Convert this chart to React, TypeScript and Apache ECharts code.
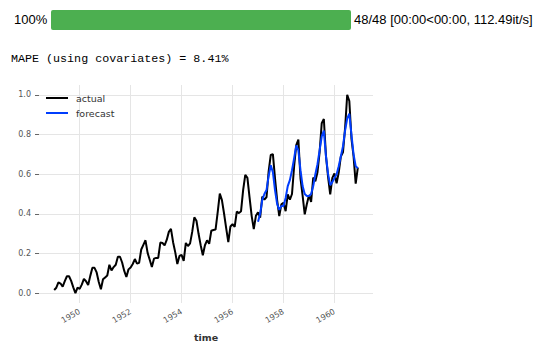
import React, { useEffect, useRef } from "react";
import * as echarts from "echarts";

// Monthly air passengers (thousands), 1949-01 .. 1960-12
const passengers: number[] = [
  112, 118, 132, 129, 121, 135, 148, 148, 136, 119, 104, 118,
  115, 126, 141, 135, 125, 149, 170, 170, 158, 133, 114, 140,
  145, 150, 178, 163, 172, 178, 199, 199, 184, 162, 146, 166,
  171, 180, 193, 181, 183, 218, 230, 242, 209, 191, 172, 194,
  196, 196, 236, 235, 229, 243, 264, 272, 237, 211, 180, 201,
  204, 188, 235, 227, 234, 264, 302, 293, 259, 229, 203, 229,
  242, 233, 267, 269, 270, 315, 364, 347, 312, 274, 237, 278,
  284, 277, 317, 313, 318, 374, 413, 405, 355, 306, 271, 306,
  315, 301, 356, 348, 355, 422, 465, 467, 404, 347, 305, 336,
  340, 318, 362, 348, 363, 435, 491, 505, 404, 359, 310, 337,
  360, 342, 406, 396, 420, 472, 548, 559, 463, 407, 362, 405,
  417, 391, 419, 461, 472, 535, 622, 606, 508, 461, 390, 432,
];
const startYear = 1949;

// Scaled forecast, 1957-01 .. 1960-12
const forecast: number[] = [
  0.36, 0.40, 0.47, 0.50, 0.52, 0.59, 0.645, 0.61, 0.52, 0.45, 0.42, 0.44,
  0.44, 0.48, 0.54, 0.57, 0.62, 0.68, 0.745, 0.72, 0.62, 0.54, 0.50, 0.49,
  0.49, 0.50, 0.54, 0.60, 0.65, 0.72, 0.79, 0.82, 0.69, 0.60, 0.545, 0.56,
  0.58, 0.60, 0.64, 0.69, 0.74, 0.82, 0.88, 0.905, 0.80, 0.70, 0.64, 0.63,
];
const forecastStartYear = 1957;

const xTickYears: number[] = [1950, 1952, 1954, 1956, 1958, 1960];
const yTicks: number[] = [0, 0.2, 0.4, 0.6, 0.8, 1.0];

const seriesNames = ["actual", "forecast"];
const progressLeft = "100%";
const progressRight = "48/48 [00:00<00:00, 112.49it/s]";
const metricText = "MAPE (using covariates) = 8.41%";

export default function App() {
  const ref = useRef<HTMLDivElement>(null);
  useEffect(() => {
    if (!ref.current) return;
    const chart = echarts.init(ref.current, undefined, { renderer: "svg" });
    const pMin = Math.min(...passengers);
    const pMax = Math.max(...passengers);
    const actualData = passengers.map((p, i) => [startYear + i / 12, (p - pMin) / (pMax - pMin)]);
    const forecastData = forecast.map((v, i) => [forecastStartYear + i / 12, v]);
    const x0 = startYear;
    const x1 = startYear + (passengers.length - 1) / 12;
    const xm = (x1 - x0) * 0.05;
    const font = "DejaVu Sans";
    chart.setOption({
      animation: false,
      backgroundColor: "#ffffff",
      grid: { left: 39, right: 170, top: 85, bottom: 48 },
      legend: {
        orient: "vertical",
        left: 46,
        top: 92,
        padding: 0,
        itemWidth: 22,
        itemHeight: 2,
        itemGap: 3,
        icon: "rect",
        textStyle: { fontFamily: font, fontSize: 9.5, color: "#333", lineHeight: 12, padding: [0, 0, 0, 3] },
        data: seriesNames,
      },
      xAxis: {
        type: "value",
        min: x0 - xm,
        max: x1 + xm,
        name: "time",
        nameLocation: "middle",
        nameGap: 29,
        nameTextStyle: { fontFamily: font, fontSize: 9.5, fontWeight: "bold", color: "#333" },
        axisLine: { show: false },
        axisTick: { show: true, customValues: xTickYears, length: 0, lineStyle: { color: "#e5e5e5" } },
        axisLabel: {
          customValues: xTickYears,
          rotate: 30,
          margin: 8,
          fontFamily: font,
          fontSize: 8,
          color: "#555",
          formatter: (v: number) => String(Math.round(v)),
        },
        splitLine: { show: true, lineStyle: { color: "#e5e5e5", width: 1 } },
      },
      yAxis: {
        type: "value",
        min: -0.05,
        max: 1.05,
        axisLine: { show: false },
        axisTick: { show: true, customValues: yTicks, length: 4, lineStyle: { color: "#666" } },
        axisLabel: {
          customValues: yTicks,
          margin: 8,
          fontFamily: font,
          fontSize: 8,
          color: "#555",
          formatter: (v: number) => v.toFixed(1),
        },
        splitLine: { show: true, lineStyle: { color: "#e5e5e5", width: 1 } },
      },
      series: [
        {
          name: seriesNames[0],
          type: "line",
          data: actualData,
          showSymbol: false,
          symbol: "none",
          lineStyle: { color: "#000000", width: 2 },
          itemStyle: { color: "#000000" },
          z: 2,
        },
        {
          name: seriesNames[1],
          type: "line",
          data: forecastData,
          showSymbol: false,
          symbol: "none",
          lineStyle: { color: "#003DFD", width: 2 },
          itemStyle: { color: "#003DFD" },
          z: 3,
        },
      ],
      graphic: [
        {
          type: "text",
          left: 14,
          top: 13,
          style: { text: progressLeft, fontFamily: "Liberation Sans", fontSize: 13, fill: "#000" },
        },
        {
          type: "rect",
          shape: { x: 51, y: 10, width: 300, height: 20, r: 2 },
          style: { fill: "#4caf50" },
        },
        {
          type: "text",
          left: 354,
          top: 13,
          style: { text: progressRight, fontFamily: "Liberation Sans", fontSize: 13, fill: "#000" },
        },
        {
          type: "text",
          left: 11,
          top: 53,
          style: { text: metricText, fontFamily: "Liberation Mono", fontSize: 11.7, fill: "#000" },
        },
      ],
    });
    return () => chart.dispose();
  }, []);
  return (
    <div
      ref={ref}
      style={{ position: "absolute", left: 0, top: 0, width: 543, height: 351, background: "#fff" }}
    />
  );
}
